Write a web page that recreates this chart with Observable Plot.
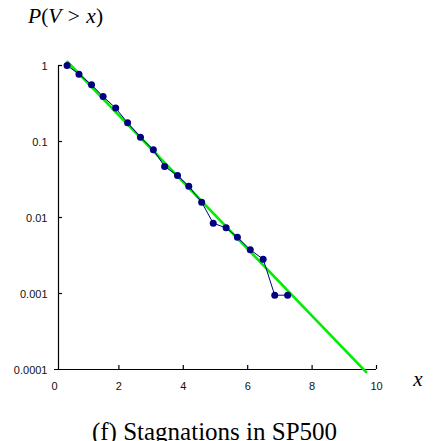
<!DOCTYPE html>
<html>
<head>
<meta charset="utf-8">
<script src="https://cdn.jsdelivr.net/npm/d3@7"></script>
<script src="https://cdn.jsdelivr.net/npm/@observablehq/plot@0.6"></script>
<style>
  html, body { margin: 0; padding: 0; background: #fff; }
  #wrap { position: relative; width: 435px; }
  #title { height: 40px; position: relative; font-family: "Liberation Serif", "Times New Roman", serif; font-size: 21.5px; }
  #title span { position: absolute; left: 28px; top: 6px; line-height: 21px; white-space: nowrap; word-spacing: 1px; }
  #caption { text-align: center; font-family: "Liberation Serif", "Times New Roman", serif; font-size: 25px; line-height: 25px; padding-top: 9px; padding-right: 6px; white-space: nowrap; }
  svg { display: block; }
</style>
</head>
<body>
<div id="wrap">
  <div id="title"><span><i>P</i>(<i>V</i> &gt; <i>x</i>)</span></div>
  <div id="chart"></div>
  <div id="caption">(f) Stagnations in SP500</div>
</div>
<script>
// Empirical distribution points
const xVals = [0.39, 0.76, 1.15, 1.51, 1.90, 2.27, 2.67, 3.07, 3.42, 3.82, 4.17, 4.57, 4.93, 5.33, 5.68, 6.08, 6.48, 6.84, 7.24];
const pVals = [1.0, 0.77, 0.557, 0.39, 0.275, 0.176, 0.114, 0.0778, 0.0469, 0.0357, 0.0258, 0.0159, 0.0084, 0.00731, 0.0055, 0.00376, 0.00283, 0.00095, 0.00095];
// Fitted exponential line endpoints
const fitX = [0.40, 9.68];
const fitP = [1.12, 0.0000925];
// Ticks
const xTicks = [0, 2, 4, 6, 8, 10];
const xTickLabels = ["0", "2", "4", "6", "8", "10"];
const yTicks = [1, 0.1, 0.01, 0.001, 0.0001];
const yTickLabels = ["1", "0.1", "0.01", "0.001", "0.0001"];

const pts = xVals.map((x, i) => ({x, p: pVals[i]}));
const fit = fitX.map((x, i) => ({x, p: fitP[i]}));

const chart = Plot.plot({
  width: 435,
  height: 370,
  marginLeft: 54,
  marginRight: 59,
  marginTop: 25,
  marginBottom: 41,
  style: {fontFamily: "'Liberation Sans', Arial, sans-serif", fontSize: "11px", color: "#000", background: "#fff"},
  x: {domain: [0, 10], axis: null},
  y: {type: "log", domain: [0.0001, 1], axis: null},
  marks: [
    Plot.ruleY([yTicks[yTicks.length - 1]], {stroke: "#000", strokeWidth: 1.2}),
    Plot.ruleX([xTicks[0]], {dx: 4, stroke: "#000", strokeWidth: 1.2}),
    Plot.axisY({ticks: yTicks.slice(0, -1), tickSize: -4, fill: "none", dx: 4, label: null, strokeWidth: 1.2}),
    Plot.axisY({ticks: yTicks, tickFormat: d => yTickLabels[yTicks.indexOf(d)], tickSize: 0, tickPadding: 11, dx: 4, dy: 1, label: null, fontSize: 11, fill: "#111"}),
    Plot.axisX({ticks: xTicks, tickFormat: d => xTickLabels[xTicks.indexOf(d)], tickSize: 0, tickPadding: 13, label: null, fontSize: 11, fill: "#111"}),
    Plot.axisX({ticks: xTicks.slice(1), tickSize: -4, fill: "none", label: null, strokeWidth: 1.2}),
    Plot.line(fit, {x: "x", y: "p", stroke: "#00ee00", strokeWidth: 2.6}),
    Plot.line(pts, {x: "x", y: "p", stroke: "#000080", strokeWidth: 1}),
    Plot.dot(pts, {x: "x", y: "p", r: 3.5, fill: "#000080", stroke: "none"}),
    Plot.text(["x"], {frameAnchor: "bottom-right", dx: 46, dy: 10, lineAnchor: "middle", fontFamily: "'Liberation Serif', 'Times New Roman', serif", fontStyle: "italic", fontSize: 21})
  ]
});
document.getElementById("chart").appendChild(chart);
</script>
</body>
</html>
